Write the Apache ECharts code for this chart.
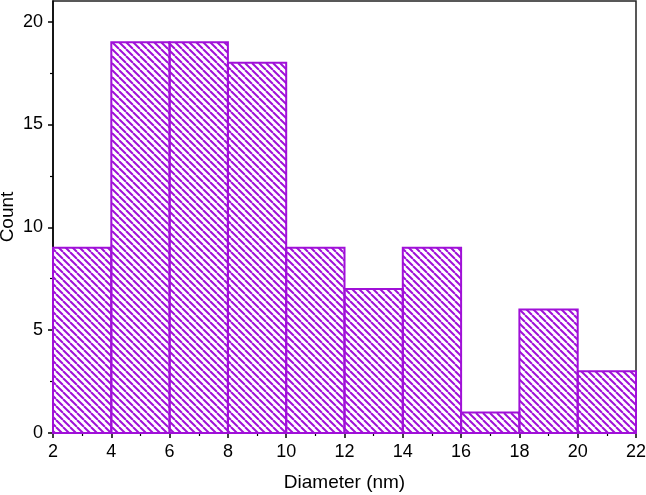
<!DOCTYPE html>
<html>
<head>
<meta charset="utf-8">
<script src="https://cdn.jsdelivr.net/npm/echarts@6/dist/echarts.min.js"></script>
<style>
  html, body { margin: 0; padding: 0; background: #fff; }
  #chart { width: 646px; height: 495px; }
</style>
</head>
<body>
<div id="chart"></div>
<script>
// histogram bins (nm) and counts
var binStart = [2, 4, 6, 8, 10, 12, 14, 16, 18, 20];
var binEnd = [4, 6, 8, 10, 12, 14, 16, 18, 20, 22];
var counts = [9, 19, 19, 18, 9, 7, 9, 1, 6, 3];
var yMajor = [0, 5, 10, 15, 20];
var yMinor = [2.5, 7.5, 12.5, 17.5];

var purple = "#a010d8";

// diagonal hatch pattern
function hatch() {
  var s = 7;
  var c = document.createElement("canvas");
  c.width = s; c.height = s;
  var ctx = c.getContext("2d");
  ctx.strokeStyle = purple;
  ctx.lineWidth = 2;
  for (var k = -1; k <= 1; k++) {
    ctx.beginPath();
    ctx.moveTo(k * s, 0);
    ctx.lineTo(k * s + s, s);
    ctx.stroke();
  }
  return c;
}

var data = [];
for (var i = 0; i < counts.length; i++) {
  data.push([binStart[i], binEnd[i], counts[i]]);
}

var chart = echarts.init(document.getElementById("chart"));
var pattern = { image: hatch(), repeat: "repeat" };

var font = "Liberation Sans, Arial, sans-serif";

chart.setOption({
  animation: false,
  grid: {
    left: 53, right: 10, top: 1, bottom: 62,
    containLabel: false, outerBoundsMode: "none",
    show: true, borderColor: "#222", borderWidth: 1.5
  },
  xAxis: {
    type: "value",
    min: 2, max: 22, interval: 2,
    name: "Diameter (nm)",
    nameLocation: "middle",
    nameGap: 40,
    nameMoveOverlap: false,
    nameTextStyle: { fontSize: 19, color: "#000", fontFamily: font },
    axisLine: { lineStyle: { color: "#000", width: 1.5 } },
    axisTick: { length: 5, lineStyle: { color: "#000", width: 1.5 } },
    minorTick: { show: true, splitNumber: 2, length: 3, lineStyle: { color: "#000", width: 1.2 } },
    axisLabel: { fontSize: 18, color: "#000", margin: 10, fontFamily: font },
    splitLine: { show: false }
  },
  yAxis: [{
    type: "value",
    min: 0, max: 21,
    name: "Count",
    nameLocation: "middle",
    nameGap: 36,
    nameMoveOverlap: false,
    nameTextStyle: { fontSize: 19, color: "#000", fontFamily: font },
    axisLine: { show: true, lineStyle: { color: "#000", width: 1.5 } },
    axisTick: { customValues: yMajor, length: 5, lineStyle: { color: "#000", width: 1.5 } },
    axisLabel: { customValues: yMajor, fontSize: 18, color: "#000", margin: 10, fontFamily: font },
    splitLine: { show: false }
  }, {
    type: "value",
    min: 0, max: 21,
    position: "left",
    axisLine: { show: false },
    axisTick: { customValues: yMinor, length: 3, lineStyle: { color: "#000", width: 1.2 } },
    axisLabel: { show: false },
    splitLine: { show: false }
  }],
  series: [{
    type: "custom",
    data: data,
    encode: { x: [0, 1], y: 2 },
    renderItem: function (params, api) {
      var p0 = api.coord([api.value(0), api.value(2)]);
      var p1 = api.coord([api.value(1), 0]);
      return {
        type: "rect",
        shape: { x: p0[0], y: p0[1], width: p1[0] - p0[0], height: p1[1] - p0[1] },
        style: { fill: pattern, stroke: purple, lineWidth: 2 }
      };
    }
  }]
});
</script>
</body>
</html>
